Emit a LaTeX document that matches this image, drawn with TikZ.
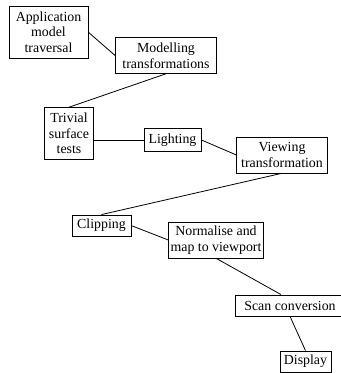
\documentclass[tikz,border=0pt]{standalone}
\usepackage{fontspec}
\setmainfont{Liberation Serif}
\usepackage{tikz}
\usetikzlibrary{positioning, calc}
\tikzstyle{stage} = [rectangle, draw, align=center, inner sep=1.5pt, font=\fontsize{10.4}{11.8}\selectfont]
\tikzstyle{link} = [draw, semithick]

\begin{document}
\begin{tikzpicture}[x=0.75pt, y=-0.75pt]
    \useasboundingbox (0,0) rectangle (341,373);
    \node (app) [stage, minimum width=59pt, minimum height=39pt] at (48.5,32) {Application\\model\\traversal};
    \node (model) [stage, minimum width=76pt, minimum height=27pt] at (166,55.5) {Modelling\\transformations};
    \node (trivial) [stage, minimum width=37pt, minimum height=39pt] at (69,133.5) {Trivial\\surface\\tests};
    \node (lighting) [stage, minimum width=43pt, minimum height=17pt] at (172.5,140) {Lighting};
    \node (viewing) [stage, minimum width=68pt, minimum height=27pt] at (282,155) {Viewing\\transformation};
    \node (clipping) [stage, minimum width=44pt, minimum height=16pt] at (101.5,225.5) {Clipping};
    \node (normalise) [stage, minimum width=65pt, minimum height=27pt] at (216,240) {Normalise and\\map to viewport};
    \node (scan) [stage, minimum width=82pt, minimum height=16pt] at (290,305.5) {Scan conversion};
    \node (display) [stage, minimum width=38pt, minimum height=16pt] at (305.5,361.5) {Display};

    \draw [link] (app.east) -- (model.west);
    \draw [link] (model.south) -- (trivial.north);
    \draw [link] (trivial.east |- lighting.west) -- (lighting.west);
    \draw [link] (lighting.east) -- (viewing.west);
    \draw [link] (viewing.south) -- (clipping.north);
    \draw [link] (clipping.east) -- (normalise.west);
    \draw [link] (normalise.south) -- ($(scan.north)+(-9,0)$);
    \draw [link] (scan.south) -- (display.north);
\end{tikzpicture}
\end{document}
